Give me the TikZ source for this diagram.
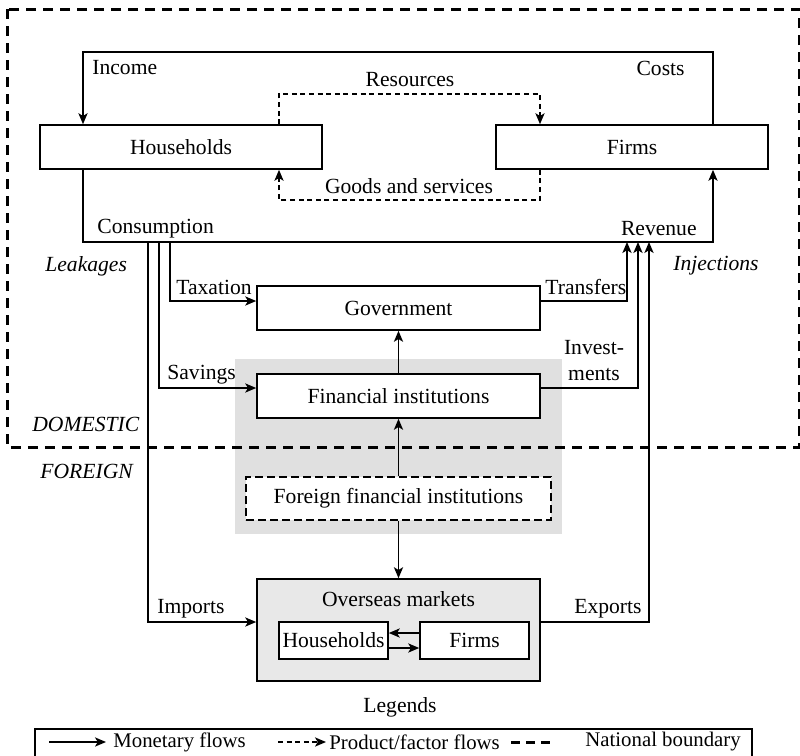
\documentclass[tikz,border=0pt]{standalone}
\usepackage{fontspec}
\setmainfont{Liberation Serif}
\usetikzlibrary{arrows.meta}
\definecolor{backgray}{gray}{0.88}
\definecolor{omgray}{gray}{0.91}
\begin{document}
\begin{tikzpicture}[x=0.5pt,y=-0.5pt,
  font=\fontsize{10.8}{13}\selectfont,
  box/.style={draw, line width=0.8pt, fill=white, inner sep=0pt},
  tip/.tip={Stealth[length=5.5pt,width=4.6pt,inset=1.4pt]},
  flow/.style={line width=0.7pt, -tip},
  pflow/.style={line width=0.7pt, dash pattern=on 2.5pt off 1.8pt, -tip},
  boundary/.style={line width=1.5pt, dash pattern=on 5pt off 3.5pt},
  lbl/.style={inner sep=0pt},
  legtext/.style={inner sep=0pt, anchor=west, font=\fontsize{10.4}{12}\selectfont},
]
\useasboundingbox (0,0) rectangle (800,756);

% shaded area behind the financial institutions
\fill[backgray] (235,359) rectangle (562,534);

% national boundary
\draw[boundary] (7,9) rectangle (799,447);

% boxes
\node[box, minimum width=141pt, minimum height=22pt] (hh) at (181,147) {Households};
\node[box, minimum width=136pt, minimum height=22pt] (firms) at (632,147) {Firms};
\node[box, minimum width=141.5pt, minimum height=22pt] (gov) at (398.5,308) {Government};
\node[box, minimum width=141.5pt, minimum height=22pt] (fi) at (398.5,396) {Financial institutions};
\node[box, dash pattern=on 4pt off 2pt, minimum width=152.5pt, minimum height=21.5pt] (ffi) at (398.5,498.5) {Foreign financial institutions};
\node[box, fill=omgray, minimum width=141.5pt, minimum height=51pt] (om) at (398.5,630) {};
\node[lbl] (omt) at (398.5,599) {Overseas markets};
\node[box, minimum width=54.5pt, minimum height=18.5pt] (omh) at (333.5,640.5) {Households};
\node[box, minimum width=54.5pt, minimum height=18.5pt] (omf) at (474.5,640.5) {Firms};

% income / costs loop
\coordinate (incL) at (83,52);
\coordinate (incR) at (713,52);
\draw[flow] (firms.north -| incR) -- (incR) -- (incL) -- (hh.north -| incL);

% resources and goods
\coordinate (rsL) at (279,94);
\coordinate (rsR) at (540,94);
\draw[pflow] (hh.north -| rsL) -- (rsL) -- (rsR) -- (firms.north -| rsR);
\coordinate (gsL) at (279,200);
\coordinate (gsR) at (540,200);
\draw[pflow] (firms.south -| gsR) -- (gsR) -- (gsL) -- (hh.south -| gsL);

% consumption / revenue
\coordinate (conL) at (83,242);
\coordinate (conR) at (713,242);
\draw[flow] (hh.south -| conL) -- (conL) -- (conR) -- (firms.south -| conR);

% leakages
\coordinate (tx) at (170,301);
\draw[flow] (tx |- conL) -- (tx) -- (tx -| gov.west);
\coordinate (sv) at (159,388);
\draw[flow] (sv |- conL) -- (sv) -- (sv -| fi.west);
\coordinate (im) at (148,622);
\draw[flow] (im |- conL) -- (im) -- (im -| om.west);

% injections
\coordinate (tr) at (627,301);
\draw[flow] (tr -| gov.east) -- (tr) -- (tr |- conR);
\coordinate (iv) at (638,388);
\draw[flow] (iv -| fi.east) -- (iv) -- (iv |- conR);
\coordinate (ex) at (649,622);
\draw[flow] (ex -| om.east) -- (ex) -- (ex |- conR);

% financial links
\draw[flow] (fi.north) -- (gov.south);
\draw[flow] (ffi.north) -- (fi.south);
\draw[flow] (ffi.south) -- (om.north);

% overseas exchange
\coordinate (mk1) at (0,633);
\coordinate (mk2) at (0,648);
\draw[flow] (omf.west |- mk1) -- (omh.east |- mk1);
\draw[flow] (omh.east |- mk2) -- (omf.west |- mk2);

% labels
\node[lbl, anchor=west] (tIncome) at (92,68) {Income};
\node[lbl, anchor=east] (tCosts) at (685,68) {Costs};
\node[lbl] (tRes) at (410,80) {Resources};
\node[lbl] (tGoods) at (409,186) {Goods and services};
\node[lbl, anchor=west] (tCons) at (97,229) {Consumption};
\node[lbl, anchor=east] (tRev) at (697,229) {Revenue};
\node[lbl, anchor=west, font=\fontsize{10.8}{13}\selectfont\itshape] (tLeak) at (45,266) {Leakages};
\node[lbl, anchor=west, font=\fontsize{10.8}{13}\selectfont\itshape] (tInj) at (673,266) {Injections};
\node[lbl, anchor=west] (tTax) at (176,287) {Taxation};
\node[lbl, anchor=west] (tSav) at (167,375) {Savings};
\node[lbl, anchor=west] (tTr) at (545,287) {Transfers};
\node[lbl, align=center] (tInv) at (594,361) {Invest-\\ments};
\node[lbl, anchor=west, font=\fontsize{10.8}{13}\selectfont\itshape] (tDom) at (32,424) {DOMESTIC};
\node[lbl, anchor=west, font=\fontsize{10.8}{13}\selectfont\itshape] (tFor) at (40,471) {FOREIGN};
\node[lbl, anchor=west] (tImp) at (157,609) {Imports};
\node[lbl, anchor=west] (tExp) at (574,609) {Exports};

% legend
\node[lbl] (tLeg) at (400,707) {Legends};
\draw[line width=0.8pt] (35,729) rectangle (752,775);
\coordinate (l1a) at (49,742);
\coordinate (l1b) at (106,742);
\draw[flow] (l1a) -- (l1b);
\node[legtext] (l1t) at (113,742) {Monetary flows};
\coordinate (l2a) at (278,742);
\coordinate (l2b) at (326,742);
\draw[pflow] (l2a) -- (l2b);
\node[legtext] (l2t) at (329,742) {Product/factor flows};
\coordinate (l3a) at (511,742);
\coordinate (l3b) at (554,742);
\draw[line width=1.5pt, dash pattern=on 4.5pt off 3pt] (l3a) -- (l3b);
\node[legtext] (l3t) at (585,742) {National boundary};
\end{tikzpicture}
\end{document}
